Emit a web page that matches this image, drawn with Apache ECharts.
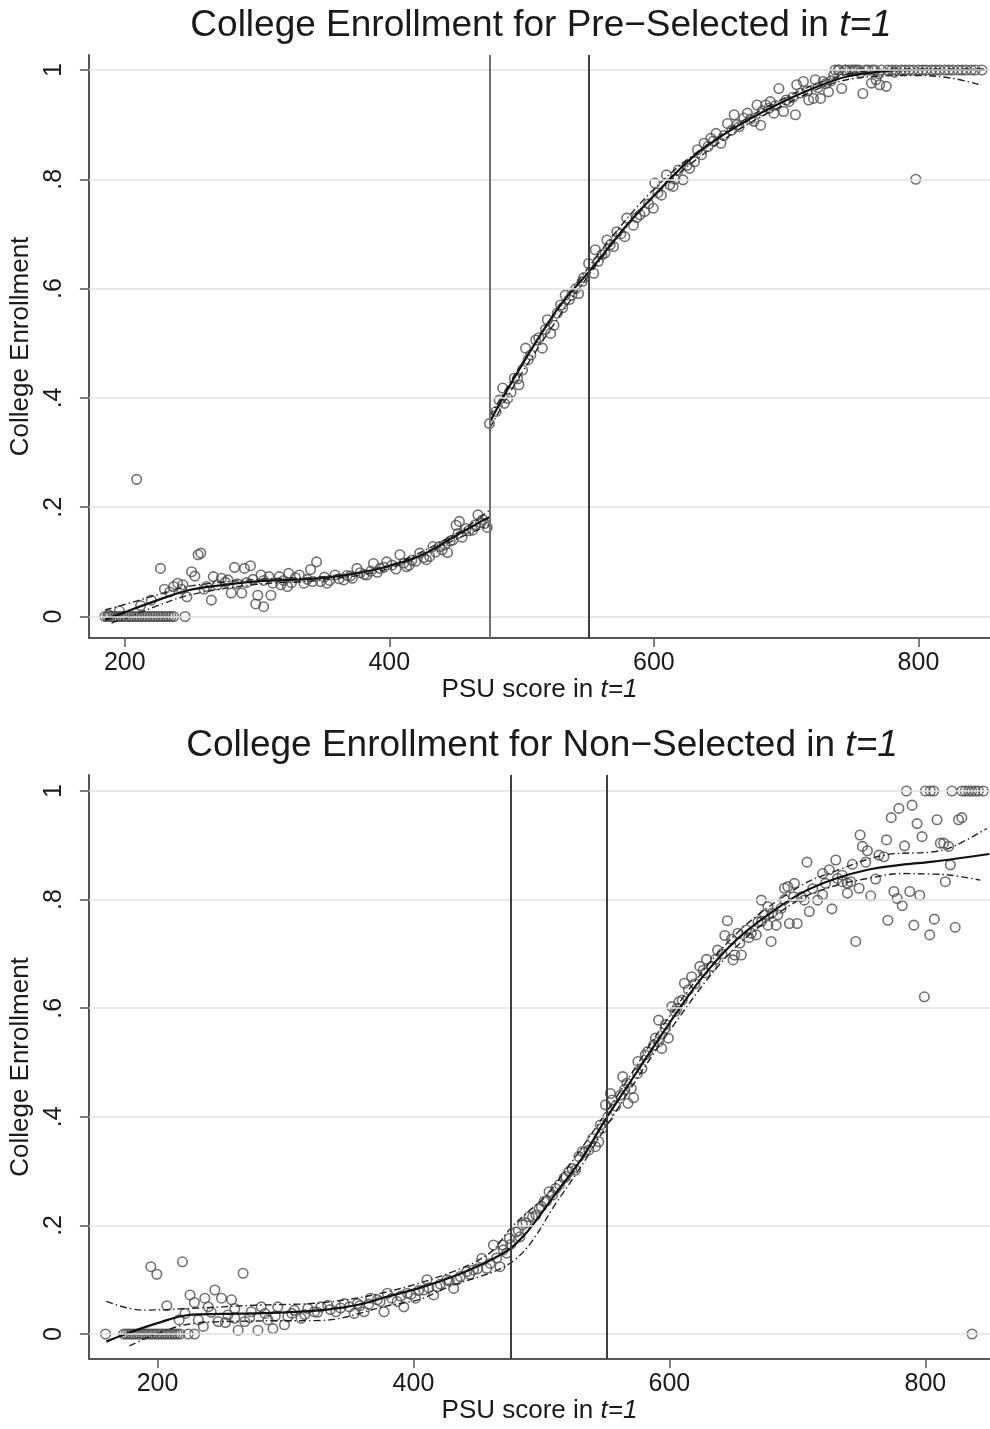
<!DOCTYPE html>
<html>
<head>
<meta charset="utf-8">
<script src="https://cdn.jsdelivr.net/npm/echarts@6/dist/echarts.min.js"></script>
<style>
html,body{margin:0;padding:0;background:#fff;}
#c{width:990px;height:1429px;}
</style>
</head>
<body>
<div id="c"></div>
<script>
// ---------- data ----------
const cutoffs = [476, 551];
const xTicks = [200, 400, 600, 800];
const yTicks = [0, 0.2, 0.4, 0.6, 0.8, 1];

// Panel 1: Pre-Selected
const preZerosX = [185,187,189,191,193,195,197,199,201,203,205,207,209,211,213,215,217,219,221,223,225,227,229,231,233,235,237,245.6];
const preLow = [
[209,0.251],[227,0.088],[255.5,0.113],[257.5,0.116],[250.5,0.082],[253,0.074],[237,0.055],[240,0.061],[247,0.036],[265.5,0.030],
[267,0.073],[273,0.070],[278,0.067],[283,0.090],[290.5,0.088],[295,0.093],[280.5,0.043],[288.5,0.043],[300.5,0.039],[299,0.023],
[305,0.018],[310.5,0.039],[303,0.076],[309,0.073],[316.8,0.073],[324,0.079],[318,0.058],[323,0.055],[332,0.076],[335.5,0.061],
[340.5,0.086],[345,0.100],[348,0.064],[353,0.061],[359,0.076],[365.5,0.067],[370.5,0.074],[375.5,0.088],[383,0.076],[388,0.097],
[393,0.088],[398,0.100],[408,0.113],[413,0.091],[417,0.103],[423,0.116],[430.5,0.110],[433,0.128],[438,0.128],[444,0.117],
[448,0.140],[450.5,0.167],[453,0.174],[458,0.161],[463,0.158],[467,0.186],[470.5,0.177],[474,0.163],
[188,0.003],[196,0.010],[212,0.020],[220,0.030],[230,0.050],[234,0.045],[243,0.050],[244,0.058],[260,0.050],[262,0.055],
[270,0.058],[276,0.063],[285,0.060],[292,0.062],[297,0.068],[305,0.066],[312,0.061],[320,0.066],[326,0.062],[329,0.071],
[338,0.068],[342,0.064],[351,0.072],[355,0.066],[362,0.069],[368,0.075],[372,0.070],[378,0.080],[381,0.077],[386,0.083],
[391,0.081],[396,0.090],[402,0.094],[405,0.087],[411,0.098],[415,0.094],[420,0.101],[426,0.108],[428,0.104],[435,0.118],
[440,0.122],[442,0.131],[446,0.138],[452,0.152],[455,0.145],[460,0.157],[465,0.168],[469,0.172],[472,0.170]
];
const preHigh = [
[475.7,0.353],[480.7,0.375],[483,0.396],[485.7,0.418],[489.5,0.399],[494.5,0.436],[498,0.424],[500.7,0.451],[503,0.491],[507,0.479],
[510.7,0.506],[515.7,0.491],[519.5,0.543],[522,0.518],[524.5,0.533],[529.5,0.570],[533,0.588],[538,0.588],[543,0.591],[545.7,0.613],
[550.7,0.646],[554.5,0.628],[555.7,0.671],[560.7,0.662],[564.5,0.689],[569.5,0.677],[572,0.704],[578,0.695],[579.5,0.729],[584.5,0.716],
[589.5,0.735],[593,0.741],[599.5,0.747],[600.7,0.793],[605.7,0.771],[609.5,0.808],[614.5,0.787],[618.5,0.817],[622,0.799],[627,0.820],
[630.7,0.832],[633,0.854],[638,0.866],[643,0.875],[647,0.884],[650.7,0.866],[655.7,0.902],[660.7,0.918],[664.5,0.896],[668,0.912],
[670.7,0.921],[675.7,0.906],[678,0.936],[680.7,0.899],[684.5,0.936],[688,0.942],[690.7,0.921],[694.5,0.966],[698,0.924],[702,0.942],
[707,0.918],[708,0.973],[713,0.979],[717,0.945],[720.7,0.948],[722,0.982],[726,0.948],[728,0.979],[732,0.960],[736,0.991],
[739.5,1.0],[742,0.966],[744.5,1.0],[748,1.0],[753,1.0],[758,0.957],[762,1.0],[764.5,0.976],[768,0.982],[770.7,0.973],[775.7,0.970],
[487,0.390],[492,0.410],[497,0.435],[505,0.470],[513,0.510],[518,0.525],[527,0.555],[531,0.565],[536,0.580],[541,0.600],
[547,0.620],[558,0.650],[563,0.665],[567,0.680],[575,0.700],[587,0.730],[596,0.755],[603,0.775],[612,0.790],[616,0.800],
[625,0.825],[636,0.845],[641,0.860],[645,0.870],[653,0.880],[659,0.890],[663,0.900],[673,0.910],[682,0.925],[687,0.930],
[692,0.935],[700,0.945],[705,0.950],[711,0.958],[716,0.962],[724,0.968],[730,0.975],[734,0.980],
[737,1.0],[740,1.0],[745,1.0],[750,1.0],[752,1.0],[755,1.0],[760,1.0],[765,1.0],[767,1.0],[772,1.0],[777,1.0],[780,1.0],
[783,1.0],[787,1.0],[790,1.0],[793,1.0],[796,1.0],[800,1.0],[803,1.0],[806,1.0],[810,1.0],[813,1.0],[816,1.0],[820,1.0],
[823,1.0],[826,1.0],[830,1.0],[833,1.0],[836,1.0],[840,1.0],[843,1.0],[848,1.0],[756,0.995],[770,0.993],[782,0.996],[798,0.80]
];
const preFitLeft = [[185,-0.006],[200,0.008],[225,0.030],[248,0.048],[275,0.058],[298,0.064],[325,0.067],[348,0.070],[375,0.079],[398,0.091],[425,0.113],[449,0.146],[465,0.168],[476,0.182]];
const preUpLeft = [[185,0.012],[200,0.022],[225,0.040],[250,0.056],[300,0.068],[350,0.073],[400,0.094],[450,0.151],[476,0.195]];
const preLoLeft = [[190,-0.012],[200,-0.004],[225,0.020],[250,0.040],[300,0.059],[350,0.067],[400,0.088],[450,0.141],[476,0.168]];
const preFitRight = [[476,0.356],[490,0.418],[511,0.503],[530,0.572],[551,0.631],[581,0.720],[610,0.795],[634,0.850],[665,0.900],[696,0.940],[720,0.966],[746,0.988],[775,0.998],[800,1.0],[850,1.0]];
const preUpRight = [[476,0.366],[500,0.462],[550,0.637],[600,0.782],[650,0.880],[700,0.950],[750,0.994],[800,1.002],[850,1.002]];
const preLoRight = [[476,0.345],[500,0.445],[550,0.622],[600,0.768],[650,0.868],[700,0.938],[750,0.984],[800,0.990],[825,0.985],[848,0.972]];

// Panel 2: Non-Selected
const nonZerosX = [159.4,173.6,175.5,177.5,179.5,181.5,183.5,185.5,187.5,189.5,191.5,193.5,195.5,197.5,199.5,201.5,203.5,205.5,207.5,209.5,211.5,213.5,215.5,217.6,224,229,836.5];
const nonLow = [
[194.8,0.124],[199.5,0.110],[219.5,0.133],[266.9,0.112],[207.3,0.052],[221.5,0.038],[225.4,0.072],[228.8,0.058],[216.9,0.026],[231.9,0.026],
[235.8,0.014],[237,0.066],[244.8,0.081],[239.7,0.050],[250,0.066],[247.4,0.023],[253.1,0.021],[257.8,0.063],[260.4,0.047],[260.4,0.029],
[263,0.007],[268.2,0.023],[273.3,0.041],[278.5,0.007],[281.1,0.050],[286.3,0.026],[290.2,0.010],[294,0.050],[299.2,0.017],[301.8,0.032],
[307,0.044],[312.2,0.029],[317.4,0.047],[322.6,0.041],[327.7,0.050],[333,0.053],[339.4,0.041],[345.9,0.056],[353.7,0.038],[356.2,0.056],
[361.4,0.041],[366.6,0.066],[371.8,0.063],[377,0.041],[379.6,0.075],[387.3,0.060],[392.5,0.050],[395.1,0.075],[401.6,0.066],[408,0.081],
[410.6,0.100],[415.8,0.072],[418.4,0.087],[426.2,0.100],[431.4,0.084],[436.6,0.106],[441.7,0.115],[446.9,0.118],[453.4,0.139],[457.3,0.121],
[462.5,0.164],[467.6,0.124],[470.2,0.155],[472.8,0.149],[483.2,0.179],
[305,0.038],[315,0.036],[325,0.040],[335,0.045],[343,0.048],[350,0.050],[358,0.052],[365,0.055],[374,0.060],[383,0.066],
[390,0.070],[398,0.073],[404,0.080],[412,0.085],[421,0.092],[428,0.098],[434,0.100],[444,0.110],[450,0.120],[460,0.130],
[465,0.140],[476,0.165],[242,0.040],[255,0.035],[272,0.030],[284,0.038],[292,0.033]
];
const nonHigh = [
[469.7,0.164],[474.9,0.176],[480.1,0.188],[485.2,0.201],[490.4,0.216],[495.6,0.219],[498.2,0.231],[502.1,0.244],[506,0.262],[508.6,0.256],
[511.2,0.268],[517.6,0.287],[521.5,0.299],[526.7,0.302],[529.3,0.327],[531.9,0.336],[537,0.339],[542.2,0.345],[544.8,0.354],[547.4,0.379],
[550,0.422],[555.2,0.431],[553.9,0.443],[561.7,0.440],[567.6,0.425],[572,0.435],[570.2,0.452],[566.8,0.462],[563.5,0.474],[575.4,0.502],
[578.5,0.489],[581.1,0.514],[587.6,0.532],[591.5,0.538],[594,0.526],[591.5,0.578],[596.6,0.563],[599.2,0.545],[601.8,0.603],[604.4,0.594],
[607.5,0.612],[611.7,0.646],[614.8,0.634],[617.4,0.658],[623.8,0.677],[626.4,0.670],[629,0.690],[633,0.677],[637.6,0.707],[643.3,0.734],
[645.3,0.761],[648.5,0.727],[649.7,0.689],[651,0.698],[653.6,0.738],[656.2,0.698],[660.1,0.744],[664,0.738],[667.9,0.735],[669.2,0.759],
[671.8,0.799],[674.4,0.772],[677,0.787],[677,0.753],[679.5,0.723],[683.4,0.753],[684.7,0.772],[687.3,0.784],[689.9,0.821],[692.5,0.824],
[693.8,0.756],[697.7,0.830],[699.8,0.756],[702.9,0.805],[705.4,0.799],[707.5,0.869],[709.3,0.778],[715.8,0.799],[719.7,0.809],[719.7,0.848],
[724.9,0.855],[727,0.783],[730,0.873],[731.3,0.839],[735.2,0.833],[739.1,0.830],[739.1,0.812],[741.7,0.833],[743,0.865],[745.6,0.723],
[748.2,0.821],[749,0.919],[750.8,0.898],[753.4,0.869],[754.7,0.890],[757.3,0.807],[761.1,0.838],[763.7,0.882],[767.6,0.879],[769.7,0.910],
[770.7,0.762],[773.3,0.951],[775.4,0.815],[778,0.802],[779.3,0.968],[781.9,0.789],[783.7,0.899],[787.8,0.815],[789.6,0.974],[791,0.753],
[793.5,0.940],[795.6,0.808],[797.4,0.916],[799.2,0.621],[803.4,0.735],[807,0.764],[809.1,0.947],[811.7,0.904],[814.3,0.904],[815.6,0.833],
[818.1,0.898],[819.5,0.864],[823.3,0.749],[825.9,0.947],[828.5,0.951],
[785.2,1.0],[800,1.0],[803.9,1.0],[806.5,1.0],[820.7,1.0],[828.5,1.0],[831.1,1.0],[833.7,1.0],[836.3,1.0],[838.9,1.0],[841.5,1.0],[845.3,1.0],
[482,0.190],[488,0.205],[493,0.215],[500,0.235],[504,0.245],[514,0.275],[519,0.290],[524,0.305],[534,0.335],[540,0.360],
[546,0.385],[552,0.400],[558,0.420],[565,0.450],[575,0.480],[583,0.520],[589,0.545],[597,0.570],[606,0.600],[610,0.615],
[620,0.645],[628,0.665],[636,0.690],[641,0.700],[655,0.720],[662,0.730],[672,0.760],[680,0.775],[690,0.800],[697,0.805],
[712,0.820],[722,0.830],[735,0.845]
];
const nonFit = [[160,-0.014],[175,0.000],[200,0.020],[224,0.035],[250,0.037],[276,0.038],[300,0.040],[328,0.044],[355,0.053],[380,0.069],[405,0.085],[431,0.106],[455,0.130],[468,0.146],[478,0.162],[488,0.186],[498,0.216],[510,0.255],[532,0.325],[550,0.395],[573,0.477],[599,0.569],[625,0.655],[651,0.723],[677,0.772],[703,0.812],[729,0.838],[755,0.855],[781,0.864],[806,0.870],[850,0.884]];
const nonUp = [[160,0.060],[188,0.044],[224,0.047],[276,0.053],[330,0.058],[380,0.078],[431,0.115],[460,0.150],[476,0.195],[490,0.226],[505,0.258],[550,0.406],[600,0.585],[650,0.732],[700,0.822],[730,0.853],[768,0.882],[806,0.888],[822,0.898],[848,0.931]];
const nonLo = [[178,-0.022],[195,-0.004],[224,0.018],[276,0.024],[328,0.025],[380,0.052],[405,0.064],[431,0.090],[452,0.106],[466,0.118],[480,0.138],[493,0.172],[510,0.236],[530,0.305],[550,0.380],[600,0.558],[650,0.708],[700,0.798],[730,0.826],[755,0.839],[781,0.848],[806,0.847],[820,0.845],[843,0.836]];

// ---------- chart ----------
const FONT = '"Liberation Sans", Arial, Helvetica, sans-serif';
const TXT = '#1a1a1a';
const chart = echarts.init(document.getElementById('c'), null, {renderer: 'canvas'});

function yFmt(v){ if (Math.abs(v) < 1e-9) return '0'; if (Math.abs(v-1) < 1e-9) return '1'; return v.toFixed(1).replace(/^0/, ''); }

function xAxisCfg(idx, min, max){
  return {
    type: 'value', gridIndex: idx, min: min, max: max,
    name: '{n|PSU score in }{i|t=1}', nameLocation: 'middle', nameGap: 38,
    nameTextStyle: {rich: {n: {fontSize: 26, fontFamily: FONT, color: TXT}, i: {fontSize: 26, fontFamily: FONT, color: TXT, fontStyle: 'italic'}}},
    axisLine: {show: true, onZero: false, lineStyle: {color: '#555', width: 2}},
    axisTick: {show: true, inside: false, length: 9, customValues: xTicks, lineStyle: {color: '#555', width: 1.5}},
    axisLabel: {show: true, customValues: xTicks, margin: 13, fontSize: 25, fontFamily: FONT, color: TXT},
    splitLine: {show: false}
  };
}
function yAxisCfg(idx, min, max){
  return {
    type: 'value', gridIndex: idx, min: min, max: max,
    name: 'College Enrollment', nameLocation: 'middle', nameGap: 48,
    nameTextStyle: {fontSize: 26, fontFamily: FONT, color: TXT},
    axisLine: {show: true, onZero: false, lineStyle: {color: '#555', width: 2}},
    axisTick: {show: true, inside: false, length: 9, customValues: yTicks, lineStyle: {color: '#555', width: 1.5}},
    axisLabel: {show: true, customValues: yTicks, rotate: 90, margin: 22, fontSize: 25, fontFamily: FONT, color: TXT, formatter: yFmt},
    splitLine: {show: false}
  };
}
function scatter(idx, data){
  return {type: 'scatter', xAxisIndex: idx, yAxisIndex: idx, data: data, symbol: 'circle', symbolSize: 9.5, z: 3,
    itemStyle: {color: 'rgba(255,255,255,0)', borderColor: '#4e4e4e', borderWidth: 1.6}, silent: true};
}
function line(idx, data, ci){
  return {type: 'line', xAxisIndex: idx, yAxisIndex: idx, data: data, showSymbol: false, symbol: 'none', smooth: 0.35, z: 4, silent: true,
    lineStyle: ci ? {color: '#222', width: 1.4, type: [7, 3, 1.5, 3]} : {color: '#111', width: 2.2}};
}
function guides(idx, firstColor){
  return [
    {type: 'line', xAxisIndex: idx, yAxisIndex: idx, data: [], z: 1, silent: true,
      markLine: {silent: true, symbol: 'none', animation: false, label: {show: false},
        lineStyle: {color: '#e2e2e2', width: 1.6, type: 'solid'},
        data: yTicks.map(v => ({yAxis: v}))}},
    {type: 'line', xAxisIndex: idx, yAxisIndex: idx, data: [], z: 2, silent: true,
      markLine: {silent: true, symbol: 'none', animation: false, label: {show: false},
        data: [{xAxis: cutoffs[0], lineStyle: {color: firstColor, width: 2, type: 'solid'}},
               {xAxis: cutoffs[1], lineStyle: {color: '#3e3e3e', width: 2, type: 'solid'}}]}}
  ];
}

const preZeros = preZerosX.map(x => [x, 0]);
const nonZeros = nonZerosX.map(x => [x, 0]);

const titleRich = {n: {fontSize: 37, fontFamily: FONT, fill: TXT}, i: {fontSize: 37, fontFamily: FONT, fill: TXT, fontStyle: 'italic'}};

const option = {
  animation: false,
  backgroundColor: '#fff',
  textStyle: {fontFamily: FONT},
  grid: [
    {left: 84, top: 55, width: 906, height: 583, containLabel: false},
    {left: 84, top: 775, width: 906, height: 584, containLabel: false}
  ],
  xAxis: [xAxisCfg(0, 172.9, 854.1), xAxisCfg(1, 146.4, 850.5)],
  yAxis: [yAxisCfg(0, -0.0393, 1.0274), yAxisCfg(1, -0.046, 1.0295)],
  graphic: [
    {type: 'text', x: 541, y: 26, silent: true,
      style: {text: '{n|College Enrollment for Pre\u2212Selected in }{i|t=1}', align: 'center', verticalAlign: 'middle', rich: titleRich}},
    {type: 'text', x: 542, y: 746, silent: true,
      style: {text: '{n|College Enrollment for Non\u2212Selected in }{i|t=1}', align: 'center', verticalAlign: 'middle', rich: titleRich}}
  ],
  series: [].concat(
    guides(0, '#707070'),
    guides(1, '#3e3e3e'),
    [
      scatter(0, preZeros), scatter(0, preLow), scatter(0, preHigh),
      line(0, preFitLeft, false), line(0, preUpLeft, true), line(0, preLoLeft, true),
      line(0, preFitRight, false), line(0, preUpRight, true), line(0, preLoRight, true),
      scatter(1, nonZeros), scatter(1, nonLow), scatter(1, nonHigh),
      line(1, nonFit, false), line(1, nonUp, true), line(1, nonLo, true)
    ]
  )
};
chart.setOption(option);
</script>
</body>
</html>
